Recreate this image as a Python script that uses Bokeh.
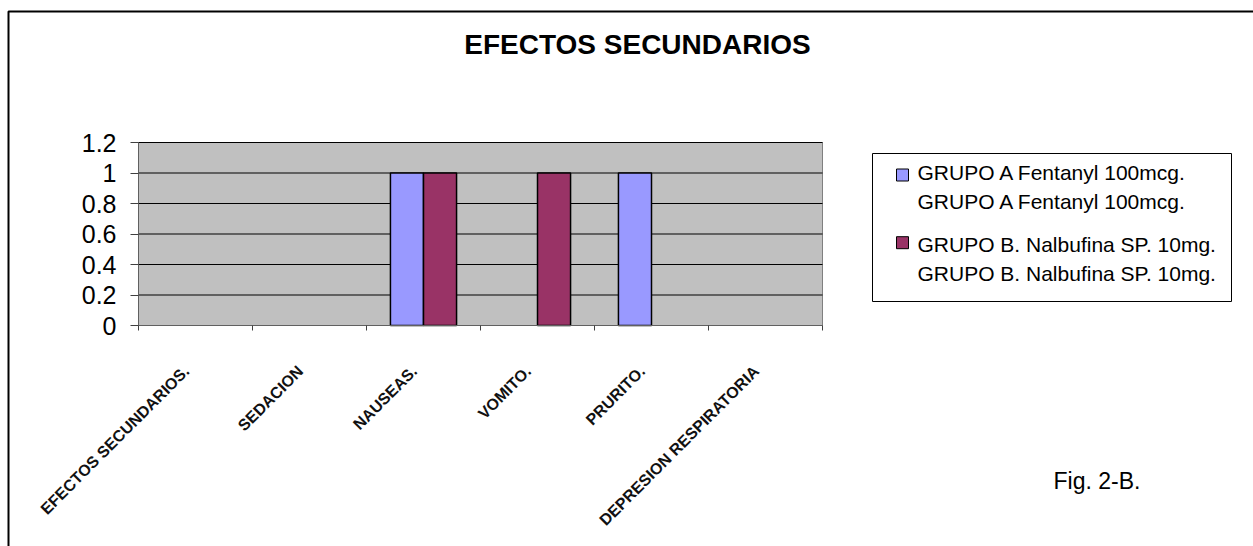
import math

from bokeh.embed import file_html
from bokeh.models import (BoxAnnotation, ColumnDataSource, FixedTicker, Label,
                          LinearAxis, Range1d)
from bokeh.plotting import figure
from bokeh.resources import INLINE

# ---- data -----------------------------------------------------------------
categories = ["EFECTOS SECUNDARIOS.", "SEDACION", "NAUSEAS.", "VOMITO.",
              "PRURITO.", "DEPRESION RESPIRATORIA"]
grupo_a = [0, 0, 1, 0, 1, 0]
grupo_b = [0, 0, 1, 1, 0, 0]
series_names = ["GRUPO A Fentanyl 100mcg.", "GRUPO B. Nalbufina SP. 10mg."]
series_colors = ["#9999FF", "#993366"]
y_ticks = [0, 0.2, 0.4, 0.6, 0.8, 1, 1.2]
y_tick_labels = ["0", "0.2", "0.4", "0.6", "0.8", "1", "1.2"]
title_text = "EFECTOS SECUNDARIOS"
note_text = "Fig. 2-B."

# ---- page geometry (canvas pixels) -----------------------------------------
W, H = 1253, 546
PA_L, PA_R, PA_T, PA_B = 138, 822, 142, 325   # grey plot area
FONT = "Liberation Sans"
BAR_W = 0.29
OFFSET = 0.145
N = len(categories)
Y_MAX = y_ticks[-1]

# the frame fills the whole canvas; ranges are chosen so that the data box
# [0, N] x [0, Y_MAX] lands on the grey plot area
ux = (PA_R - PA_L) / N
uy = (PA_B - PA_T) / Y_MAX
x_range = Range1d(-PA_L / ux, N + (W - PA_R) / ux)
y_range = Range1d(-(H - PA_B) / uy, Y_MAX + PA_T / uy)


def sy(cy):
    """canvas y (top-down) -> screen y (bottom-up)"""
    return H - cy


def screen_box(left, right, top, bottom, **kw):
    return BoxAnnotation(left=left, right=right, top=sy(top), bottom=sy(bottom),
                         left_units="screen", right_units="screen",
                         top_units="screen", bottom_units="screen", **kw)


def screen_text(x, y, text, size, **kw):
    return Label(x=x, y=sy(y), x_units="screen", y_units="screen", text=text,
                 text_baseline="middle", text_font=FONT, text_font_size=size,
                 text_color="black", **kw)


p = figure(width=W, height=H, output_backend="svg", toolbar_location=None,
           x_range=x_range, y_range=y_range,
           x_axis_location=None, y_axis_location=None,
           min_border=0, min_border_left=0, min_border_right=0,
           min_border_top=0, min_border_bottom=0)
p.background_fill_color = "white"
p.border_fill_color = "white"
p.outline_line_color = None
p.grid.visible = False

# grey plot area
p.add_layout(BoxAnnotation(left=0, right=N, bottom=0, top=Y_MAX,
                           fill_color="#C0C0C0", fill_alpha=1,
                           line_color="#808080", line_alpha=1, line_width=1,
                           level="underlay"))

# horizontal grid lines across the plot area
p.segment(x0=0, x1=N, y0=y_ticks[1:], y1=y_ticks[1:], line_color="black",
          line_width=1)

# bars, one source per series (zero values are not drawn)
for values, off, color in zip([grupo_a, grupo_b], [-OFFSET, OFFSET], series_colors):
    xs = [i + 0.5 + off for i, v in enumerate(values) if v != 0]
    tops = [v for v in values if v != 0]
    src = ColumnDataSource(dict(x=xs, top=tops))
    p.vbar(x="x", top="top", bottom=0, width=BAR_W, source=src,
           fill_color=color, line_color="black", line_width=1.5)

# y axis
yaxis = LinearAxis(fixed_location=0, bounds=(0, Y_MAX),
                   ticker=FixedTicker(ticks=y_ticks))
yaxis.major_label_overrides = {t: s for t, s in zip(y_ticks, y_tick_labels)}
yaxis.major_label_text_font = FONT
yaxis.major_label_text_font_size = "25px"
yaxis.major_label_text_color = "black"
yaxis.major_label_standoff = 14
yaxis.major_tick_out = 8
yaxis.major_tick_in = 0
yaxis.major_tick_line_color = "#404040"
yaxis.axis_line_color = "#606060"
yaxis.minor_tick_line_color = None
p.add_layout(yaxis, "left")

# x axis: labels near category centres, ticks on category boundaries
label_pos = [i + 0.42 for i in range(N)]
bounds = list(range(N + 1))
xaxis = LinearAxis(fixed_location=0, bounds=(0, N),
                   ticker=FixedTicker(ticks=label_pos, minor_ticks=bounds))
xaxis.major_label_overrides = {c: s for c, s in zip(label_pos, categories)}
xaxis.major_label_orientation = math.pi / 4
xaxis.major_label_text_font = FONT
xaxis.major_label_text_font_size = "16px"
xaxis.major_label_text_font_style = "bold"
xaxis.major_label_text_color = "#111111"
xaxis.major_label_standoff = 37
xaxis.major_tick_line_color = None
xaxis.minor_tick_out = 5
xaxis.minor_tick_in = 0
xaxis.minor_tick_line_color = "#404040"
xaxis.axis_line_color = "#606060"
p.add_layout(xaxis, "below")

# outer chart border
p.add_layout(screen_box(8, W + 40, 11, H + 40, fill_color=None,
                        line_color="black", line_alpha=1, line_width=2))

# title
p.add_layout(screen_text(637, 43.5, title_text, "28px", text_align="center",
                         text_font_style="bold"))

# figure note
p.add_layout(screen_text(1053, 480, note_text, "23px", text_align="left"))

# legend: box, swatches and two label lines per series
p.add_layout(screen_box(872, 1231, 153, 301, fill_color="white", fill_alpha=1,
                        line_color="black", line_alpha=1, line_width=1))
legend_rows = [(174.5, 172.2, 200.8), (242.2, 244.2, 273.0)]
for name, color, (sw_y, y1, y2) in zip(series_names, series_colors, legend_rows):
    p.add_layout(screen_box(896, 908, sw_y - 6, sw_y + 6, fill_color=color,
                            fill_alpha=1, line_color="black", line_alpha=1,
                            line_width=1))
    p.add_layout(screen_text(917, y1, name, "21px", text_align="left"))
    p.add_layout(screen_text(917, y2, name, "21px", text_align="left"))

open("out.html", "w").write(file_html(p, INLINE))
